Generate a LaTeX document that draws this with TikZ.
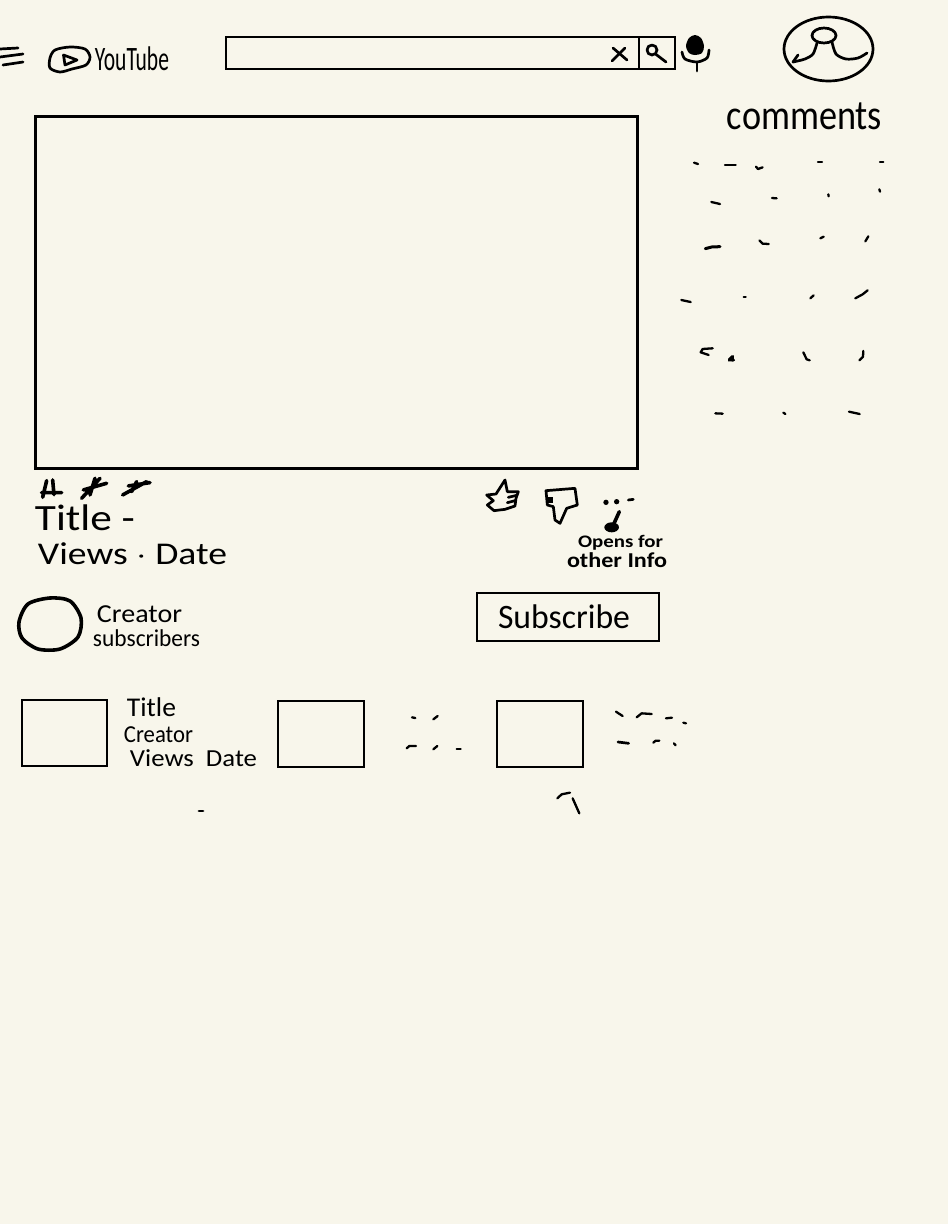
\documentclass[tikz,border=0pt]{standalone}
\usepackage{fontspec}
\usepackage{graphicx}
\setmainfont{Carlito}
\definecolor{paper}{HTML}{F8F6EB}
\newcommand{\handtext}[6]{\node[scrawl] (#1) at (#2,#3) {\resizebox*{#4pt}{#5pt}{#6}};}
\tikzset{
  pen/.style={draw=black,line width=2.7pt,line cap=round,line join=round},
  thin pen/.style={draw=black,line width=2.3pt,line cap=round,line join=round},
  heavy/.style={draw=black,line width=3.6pt,line cap=round,line join=round},
  boxed/.style={draw=black,line width=2.4pt,line join=miter,outer sep=0pt},
  scrawl/.style={inner sep=0pt,outer sep=0pt,anchor=center,text=black},
}
\begin{document}
\begin{tikzpicture}[x=1pt,y=-1pt]
\useasboundingbox (0,0) rectangle (948,1224);
\fill[paper] (0,0) rectangle (948,1224);
% hamburger
\draw[pen] (0,49) -- (18,48);
\draw[pen] (0,57) -- (23,54);
\draw[pen] (3,65) -- (23,62);
% logo
\draw[pen] plot[smooth cycle] coordinates {(50,58)(55,50)(70,47)(85,49)(90,57)(86,65)(72,69)(60,72)(50,68)};
\draw[pen] (63.5,55) -- (77,60) -- (65,65) -- cycle;
\handtext{yt}{132}{58.5}{74}{24}{YouTube}
% search
\node[boxed,minimum width=449pt,minimum height=32pt,inner sep=0pt,anchor=north west] (search) at (226,37) {};
\draw[boxed] (639,37) -- (639,69);
\draw[pen] (613,48) -- (627,60);
\draw[pen] (625,48) -- (612,61);
\draw[pen] (652,50) circle (5);
\draw[pen] (655.5,54) -- (666,62);
% mic
\fill[black] plot[smooth cycle] coordinates {(695,35)(701,38)(704,46)(702,53)(695,55)(689,53)(686,46)(689,38)};
\draw[pen] plot[smooth] coordinates {(682,52)(685,59)(697,62)(707,58)(709,50)};
\draw[pen] (697,62) -- (697,71);
% avatar
\draw[pen] (828.5,49) ellipse (44.5 and 32);
\draw[pen] (824,35.5) ellipse (12 and 7.5);
\draw[pen] plot[smooth] coordinates {(817,43)(813,54)(805,59)(793,62)};
\draw[pen] (793,62) -- (798,55);
\draw[pen] plot[smooth] coordinates {(832,42)(836,54)(846,59)(858,58)(867,53)};
\handtext{comm}{804.5}{116.5}{155}{27}{comments}
% video
\node[draw=black,line width=3pt,outer sep=0pt,minimum width=602pt,minimum height=352pt,inner sep=0pt,anchor=north west] (video) at (35,116) {};
% comment scraps
\foreach \a/\b/\c/\d in {72/68/84/72,165/75/197/75,444/66/456/66,630/66/640/66,124/186/150/192,306/174/320/175,475/163/476/169,628/148/630/155,451/295/461/290,586/304/595/289,34/480/62/486,221/472/227/472,421/475/431/466,136/820/158/821,340/818/346/822,537/815/569/822}
  \draw[thin pen] ({670+\a/3},{140+\b/3}) -- ({670+\c/3},{140+\d/3});
\begin{scope}[shift={(670,140)},x=0.3333pt,y=-0.3333pt]
\draw[thin pen] (258,80) -- (264,87) -- (278,82);
\draw[pen,line width=3pt] (106,326) -- (125,321) -- (150,320);
\draw[thin pen] (268,301) -- (278,311) -- (296,312);
\draw[thin pen] (556,475) -- (578,463) -- (593,451);
\draw[thin pen] (128,625) -- (98,627) -- (92,637) -- (116,645);
\draw[heavy] (178,660) -- (188,650) (182,658) -- (190,660);
\draw[thin pen] (400,637) -- (410,658) -- (419,661);
\draw[thin pen] (580,633) -- (579,650) -- (568,661);
\end{scope}
% hash marks
\begin{scope}[x=0.3333pt,y=-0.3333pt,shift={(0,1410)}]
\draw[heavy] (128,82) -- (140,32) (158,30) -- (162,74) (125,68) -- (185,68);
\draw[heavy] (245,85) -- (300,25) (270,75) -- (285,25) (250,60) -- (320,40);
\draw[heavy] (368,75) -- (440,35) (395,65) -- (410,35) (385,48) -- (450,38);
\end{scope}
\handtext{title}{85}{518}{100}{26}{Title -}
\handtext{views}{132.5}{554}{189}{22}{Views $\cdot$ Date}
% creator
\draw[heavy] plot[smooth cycle] coordinates {(50,598)(70,601)(81,618)(78,637)(60,649)(38,649)(22,638)(19,622)(28,604)};
\handtext{creator}{139.5}{614.5}{85}{17}{Creator}
\handtext{subs}{146.5}{638.5}{107}{17}{subscribers}
% thumbs
\begin{scope}[shift={(470,470)},x=0.3333pt,y=-0.3333pt]
\draw[pen] (50,75) -- (78,72) -- (105,30) -- (112,65) -- (145,65) -- (138,85) -- (135,108) -- (105,118) -- (72,122) -- (52,105) -- (70,92) -- cycle;
\draw[pen] (115,82) -- (140,76) (112,98) -- (135,92);
\draw[pen] (228,62) -- (315,55) -- (322,105) -- (290,115) -- (270,160) -- (255,150) -- (250,110) -- (232,105) -- cycle;
\fill[black] (234,82) rectangle (248,100);
\fill[black] (408,97) circle (8);
\fill[black] (440,95) circle (8);
\draw[pen] (475,90) -- (490,88);
\draw[heavy] (448,125) -- (430,165);
\fill[black] (425,172) ellipse (22 and 15);
\end{scope}
\handtext{open}{620.5}{542.5}{85}{15}{\bfseries Opens for}
\handtext{other}{617}{560.5}{100}{15}{\bfseries other Info}
% subscribe
\node[boxed,minimum width=182pt,minimum height=48pt,inner sep=0pt,anchor=north west] (subbox) at (477,593) {};
\handtext{subscribe}{564}{617}{132}{24}{Subscribe}
% thumbnails
\node[boxed,minimum width=85pt,minimum height=66pt,inner sep=0pt,anchor=north west] (th1) at (22,700) {};
\node[boxed,minimum width=86pt,minimum height=66pt,inner sep=0pt,anchor=north west] (th2) at (278,701) {};
\node[boxed,minimum width=86pt,minimum height=66pt,inner sep=0pt,anchor=north west] (th3) at (497,701) {};
\handtext{t1}{151.5}{707.5}{49}{19}{Title}
\handtext{c1}{158.5}{735}{69}{16}{Creator}
\handtext{v1}{193.5}{758}{127}{17}{Views\ \ Date}
\draw[pen] (199,811) -- (203,811);
% remaining scraps
\begin{scope}[shift={(390,690)},x=0.3333pt,y=-0.3333pt]
\draw[thin pen] (66,82) -- (76,84);
\draw[thin pen] (130,88) -- (143,78);
\draw[thin pen] (50,175) -- (58,168) -- (78,168);
\draw[thin pen] (130,178) -- (142,168);
\draw[thin pen] (200,177) -- (212,177);
\draw[thin pen] (678,65) -- (698,78);
\draw[thin pen] (740,82) -- (755,70) -- (785,72);
\draw[thin pen] (828,85) -- (846,83);
\draw[thin pen] (880,98) -- (888,100);
\draw[pen] (684,156) -- (716,160);
\draw[thin pen] (790,158) -- (797,152) -- (808,152);
\draw[thin pen] (852,160) -- (857,166);
\draw[thin pen] (502,325) -- (515,313) -- (540,308);
\draw[thin pen] (548,325) -- (568,370);
\end{scope}
\end{tikzpicture}
\end{document}
